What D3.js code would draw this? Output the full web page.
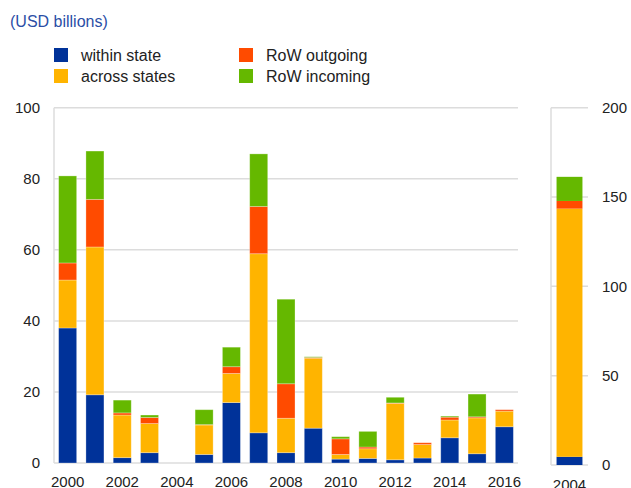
<!DOCTYPE html>
<html><head><meta charset="utf-8">
<script src="https://cdn.jsdelivr.net/npm/d3@7"></script>
<style>
html,body{margin:0;padding:0;background:#fff;}
svg{display:block;font-family:"Liberation Sans",Arial,sans-serif;}
</style></head>
<body>
<svg id="c" width="631" height="488"></svg>
<script>
const years = ["2000","2001","2002","2003","2004","2005","2006","2007","2008","2009","2010","2011","2012","2013","2014","2015","2016"];
const withinState  = [38.0,19.2,1.5,2.9,0,2.4,17.0,8.5,2.9,9.8,1.1,1.3,0.9,1.4,7.1,2.6,10.2];
const acrossStates = [13.5,41.6,12.0,8.2,0,8.3,8.2,50.4,9.7,19.7,1.3,2.7,15.9,3.8,5.0,10.1,4.4];
const rowOutgoing  = [4.8,13.4,0.6,1.7,0,0.1,1.9,13.3,9.7,0.2,4.4,0.5,0.1,0.5,0.8,0.3,0.4];
const rowIncoming  = [24.5,13.6,3.6,0.7,0,4.2,5.5,14.8,23.8,0.2,0.6,4.4,1.6,0,0.3,6.4,0];
// 2004 shown on separate right-hand scale
const insetYear = ["2004"];
const insetWithin = [4.6], insetAcross = [138.9], insetOut = [4.3], insetIn = [13.5];

const seriesNames = ["within state","across states","RoW outgoing","RoW incoming"];
const seriesColors = ["#003299","#FFB400","#FF4B00","#65B800"];
const leftTicks = [0,20,40,60,80,100];
const rightTicks = [0,50,100,150,200];
const xLabelYears = ["2000","2002","2004","2006","2008","2010","2012","2014","2016"];

const svg = d3.select("#c");
const keys = ["w","a","o","i"];
const mainRows = years.map((y,k)=>({year:y,w:withinState[k],a:acrossStates[k],o:rowOutgoing[k],i:rowIncoming[k]})).map(d=> d.year==="2004"?{year:d.year,w:0,a:0,o:0,i:0}:d);
const insetRows = insetYear.map((y,k)=>({year:y,w:insetWithin[k],a:insetAcross[k],o:insetOut[k],i:insetIn[k]}));
const stack = d3.stack().keys(keys);

// title
svg.append("text").attr("x",10).attr("y",27).attr("fill","#2b4ea6").attr("font-size",16).text("(USD billions)");

// legend
const leg = [[54,48],[54,69],[239,48],[239,69]];
const legOrder = [0,1,2,3];
legOrder.forEach((s,k)=>{
  const g = svg.append("g").attr("transform",`translate(${leg[k][0]},${leg[k][1]})`);
  g.append("rect").attr("width",14).attr("height",14).attr("fill",seriesColors[s]);
  g.append("text").attr("x",27).attr("y",13).attr("font-size",16).attr("fill","#222").text(seriesNames[s]);
});

// left panel
const x = d3.scaleBand().domain(years).range([54,518]).paddingInner(0.34).paddingOuter(0.17);
const y = d3.scaleLinear().domain([0,100]).range([463,107.7]);
const gridCol = "#dcdcdc";
svg.append("g").selectAll("line").data(leftTicks).join("line")
  .attr("x1",54).attr("x2",518).attr("y1",d=>y(d)).attr("y2",d=>y(d))
  .attr("stroke",gridCol).attr("stroke-width",1.5);
svg.append("line").attr("x1",54).attr("x2",54).attr("y1",y(100)).attr("y2",y(0)).attr("stroke",gridCol).attr("stroke-width",1.5);
svg.append("g").selectAll("text").data(leftTicks).join("text")
  .attr("x",40).attr("y",d=>y(d)).attr("dy","0.35em").attr("text-anchor","end")
  .attr("font-size",15).attr("fill","#222").text(d=>d);

const sMain = stack(mainRows);
svg.append("g").selectAll("g").data(sMain).join("g")
  .attr("fill",(d,k)=>seriesColors[k])
  .selectAll("rect").data(d=>d.filter(p=>p[1]-p[0]>0)).join("rect")
  .attr("x",d=>x(d.data.year)).attr("width",x.bandwidth())
  .attr("y",d=>y(d[1])).attr("height",d=>y(d[0])-y(d[1]))
  .attr("stroke","#fff").attr("stroke-opacity",0.35).attr("stroke-width",0.8);

svg.append("g").selectAll("text").data(xLabelYears).join("text")
  .attr("x",d=>x(d)+x.bandwidth()/2).attr("y",487).attr("text-anchor","middle")
  .attr("font-size",15).attr("fill","#222").text(d=>d);

// right panel
const x2 = d3.scaleBand().domain(insetYear).range([551,588]).paddingInner(0.3).paddingOuter(0.15);
const y2 = d3.scaleLinear().domain([0,200]).range([465,107.7]);
svg.append("g").selectAll("line").data(rightTicks).join("line")
  .attr("x1",551).attr("x2",588).attr("y1",d=>y2(d)).attr("y2",d=>y2(d))
  .attr("stroke",gridCol).attr("stroke-width",1.5);
svg.append("line").attr("x1",551).attr("x2",551).attr("y1",y2(200)).attr("y2",y2(0)).attr("stroke",gridCol).attr("stroke-width",1.5);
svg.append("g").selectAll("text").data(rightTicks).join("text")
  .attr("x",602).attr("y",d=>y2(d)).attr("dy","0.35em").attr("text-anchor","start")
  .attr("font-size",15).attr("fill","#222").text(d=>d);
const sInset = stack(insetRows);
svg.append("g").selectAll("g").data(sInset).join("g")
  .attr("fill",(d,k)=>seriesColors[k])
  .selectAll("rect").data(d=>d).join("rect")
  .attr("x",d=>x2(d.data.year)).attr("width",x2.bandwidth())
  .attr("y",d=>y2(d[1])).attr("height",d=>y2(d[0])-y2(d[1]));
svg.append("text").attr("x",x2(insetYear[0])+x2.bandwidth()/2).attr("y",490).attr("text-anchor","middle")
  .attr("font-size",15).attr("fill","#222").text(insetYear[0]);
</script>
</body></html>
